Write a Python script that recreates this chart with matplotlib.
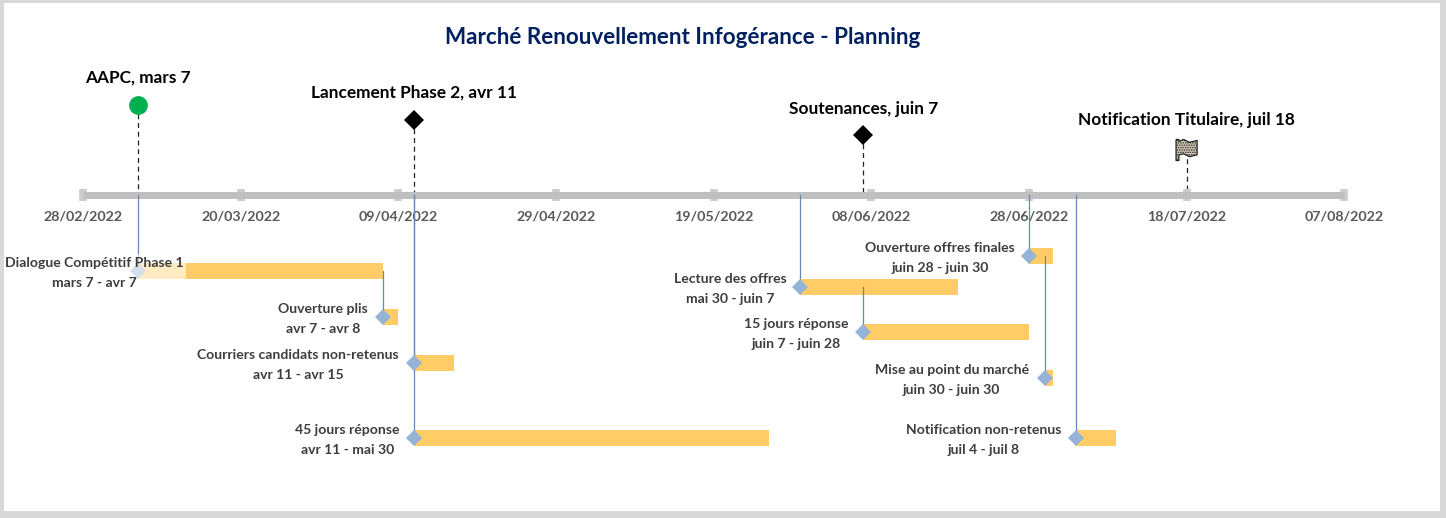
import datetime as dt
import matplotlib
matplotlib.use('Agg')
import matplotlib.pyplot as plt
import matplotlib.dates as mdates
from matplotlib.path import Path

plt.rcParams['font.family'] = ['Lato', 'DejaVu Sans']
plt.rcParams['hatch.linewidth'] = 0.7


def d(s):
    return dt.datetime.strptime(s, '%Y-%m-%d')


# data
title = 'Marché Renouvellement Infogérance - Planning'
tick_dates = ['2022-02-28', '2022-03-20', '2022-04-09', '2022-04-29', '2022-05-19',
              '2022-06-08', '2022-06-28', '2022-07-18', '2022-08-07']
tick_labels = ['28/02/2022', '20/03/2022', '09/04/2022', '29/04/2022', '19/05/2022',
               '08/06/2022', '28/06/2022', '18/07/2022', '07/08/2022']

milestone_names = ['AAPC, mars 7', 'Lancement Phase 2, avr 11',
                   'Soutenances, juin 7', 'Notification Titulaire, juil 18']
milestone_dates = ['2022-03-07', '2022-04-11', '2022-06-07', '2022-07-18']

task_names = ['Dialogue Compétitif Phase 1', 'Ouverture plis', 'Courriers candidats non-retenus',
              '45 jours réponse', 'Lecture des offres', '15 jours réponse',
              'Ouverture offres finales', 'Mise au point du marché', 'Notification non-retenus']
task_ranges = ['mars 7 - avr 7', 'avr 7 - avr 8', 'avr 11 - avr 15', 'avr 11 - mai 30',
               'mai 30 - juin 7', 'juin 7 - juin 28', 'juin 28 - juin 30',
               'juin 30 - juin 30', 'juil 4 - juil 8']
task_starts = ['2022-03-07', '2022-04-07', '2022-04-11', '2022-04-11', '2022-05-30',
               '2022-06-07', '2022-06-28', '2022-06-30', '2022-07-04']
# drawn bar ends do not follow the labels in the original
task_ends = ['2022-04-07', '2022-04-09', '2022-04-16', '2022-05-26', '2022-06-19',
             '2022-06-28', '2022-07-01', '2022-07-01', '2022-07-09']

# layout, in pixels of the reference
REF_W, REF_H = 1446, 518
X0, PX_DAY = 83.2, 1261 / 160
AXIS_Y = 195
milestone_y = [105, 120, 135, 150]
milestone_label_y = [78, 93, 109, 120]
task_y = [271, 317, 363, 438, 287, 332, 256, 378, 438]
label_dx = [-44, -60, -116, -67, -70, -67, -89, -93, -93]
stem_top = [AXIS_Y, 271, AXIS_Y, AXIS_Y, AXIS_Y, 287, AXIS_Y, 256, AXIS_Y]

BORDER = '#d9d9d9'
AXIS_GREY = '#bfbfbf'
BAR = '#ffcc66'
DIAMOND = '#95b3d7'
STEM = '#6688b0'
TEXT = '#3d3d3d'

fig = plt.figure(figsize=(14.46, 5.18), dpi=100, facecolor=BORDER)
L, R, T, B = 4, 1440, 3, 511
ax = fig.add_axes([L / REF_W, (REF_H - B) / REF_H, (R - L) / REF_W, (B - T) / REF_H])
ax.set_facecolor('white')

first = mdates.date2num(d(tick_dates[0]))
ax.set_xlim(first + (L - X0) / PX_DAY, first + (R - X0) / PX_DAY)
ax.set_ylim(B, T)

# time axis
for s in ['top', 'left', 'right']:
    ax.spines[s].set_visible(False)
ax.spines['bottom'].set_position(('data', AXIS_Y))
ax.spines['bottom'].set_bounds(first, mdates.date2num(d(tick_dates[-1])))
ax.spines['bottom'].set_color(AXIS_GREY)
ax.spines['bottom'].set_linewidth(5)
ax.spines['bottom'].set_capstyle('butt')
ax.set_yticks([])
ax.set_xticks([d(t) for t in tick_dates])
ax.set_xticklabels(tick_labels, fontsize=10.3, fontweight='bold', color='#595959')
ax.tick_params(axis='x', direction='inout', length=8, width=5.5, color='#cccccc', pad=7.5)

# tasks
for i in range(len(task_names)):
    start = d(task_starts[i])
    end = d(task_ends[i])
    ax.barh(task_y[i], end - start, left=start, height=16, color=BAR, zorder=2)
    ax.plot([start, start], [stem_top[i], task_y[i]], color=STEM, lw=0.9, zorder=3)
    ax.plot([start], [task_y[i]], marker='D', ms=8.6, color=DIAMOND, mew=0, zorder=4)
    box = None
    if i == 0:
        box = dict(facecolor='white', alpha=0.6, edgecolor='none', pad=2)
    ax.annotate(task_names[i] + '\n' + task_ranges[i], (start, task_y[i]),
                xytext=(label_dx[i], -2), textcoords='offset pixels',
                ha='center', va='center', ma='center', fontsize=10.1, fontweight='bold',
                color=TEXT, linespacing=1.75, bbox=box, zorder=5, clip_on=True)

# milestones
flag = Path([(-11, 11), (-8, 11), (-8, 9), (-3, 11), (3, 8), (11, 10), (11, -5), (3, -7),
             (-3, -4), (-8, -5), (-8, -11), (-11, -11), (-11, 11)], closed=False)
for i in range(len(milestone_names)):
    when = d(milestone_dates[i])
    ax.plot([when, when], [milestone_y[i], AXIS_Y], color='#222222', lw=0.9,
            ls=(0, (4, 3)), zorder=1)
    if i == 0:
        ax.plot([when], [milestone_y[i]], marker='o', ms=13.5, color='#00b050', mew=0, zorder=4)
    elif i == 3:
        ax.scatter([when], [milestone_y[i]], marker=flag, s=230, facecolor='#cfc8b4',
                   edgecolor='#222222', hatch='.......', linewidth=0.9, zorder=4)
    else:
        ax.plot([when], [milestone_y[i]], marker='D', ms=10.5, color='black', mew=0, zorder=4)
    ax.annotate(milestone_names[i], (when, milestone_label_y[i]), ha='center', va='center',
                fontsize=12.4, fontweight='bold', color='black', zorder=5)

fig.text(683 / REF_W, 1 - 37.5 / REF_H, title, ha='center', va='center', fontsize=16.2,
         fontweight='bold', color='#002060')

fig.savefig('out.png', dpi=100, facecolor=fig.get_facecolor())
